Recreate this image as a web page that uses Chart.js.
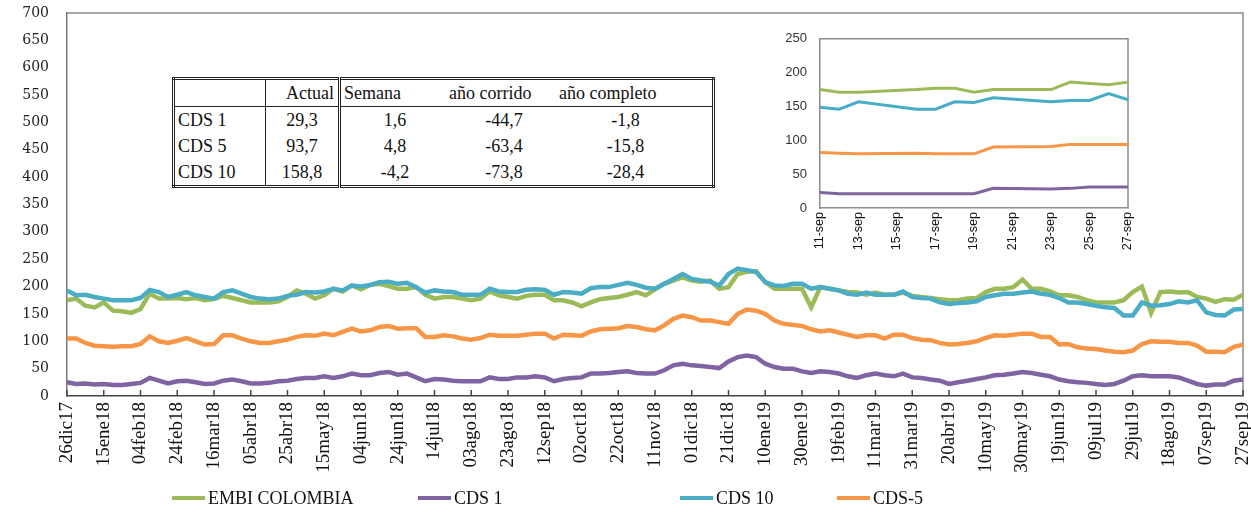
<!DOCTYPE html>
<html lang="es">
<head>
<meta charset="UTF-8" />
<title>EMBI Colombia y CDS</title>
<script src="https://cdn.jsdelivr.net/npm/chart.js@4"></script>
<style>
  body { margin: 0; background: #fff; }
  .wrap { position: relative; width: 1251px; height: 514px; font-family: "Liberation Serif", "Times New Roman", serif; color: #111; }
  #main { position: absolute; left: 0; top: 0; }
  #inset { position: absolute; left: 770px; top: 18px; }
  table.stats { position: absolute; left: 172px; top: 77px; border-collapse: collapse; border: 3px double #222; font-size: 18px; background: #fff; }
  table.stats td { padding: 0; height: 26px; line-height: 25px; white-space: nowrap; }
  table.stats tr.head td { border-bottom: 1px solid #222; }
  table.stats td.name { width: 87px; padding-left: 3px; border-right: 1px solid #222; }
  table.stats td.act { width: 72px; text-align: center; border-right: 3px double #222; }
  table.stats td.sem { width: 108px; text-align: center; }
  table.stats td.cor { width: 110px; text-align: center; }
  table.stats td.com { width: 133px; padding-right: 20px; text-align: center; }
  table.stats tr.head td.act { text-align: right; padding-right: 4px; width: 68px; }
  table.stats tr.head td.sem { text-align: left; padding-left: 3px; width: 105px; }
  table.stats tr.head td.cor, table.stats tr.head td.com { text-align: left; }
  .legend { position: absolute; top: 488px; left: 0; font-size: 18px; }
  .legend span.item { position: absolute; white-space: nowrap; }
  .legend i { display: inline-block; width: 33px; height: 4px; vertical-align: middle; margin-right: 3px; position: relative; top: -2px; }
</style>
</head>
<body>
<div class="wrap">
  <canvas id="main" width="1251" height="514"></canvas>
  <canvas id="inset" width="370" height="245"></canvas>
  <table class="stats">
    <tr class="head"><td class="name"></td><td class="act">Actual</td><td class="sem">Semana</td><td class="cor">año corrido</td><td class="com">año completo</td></tr>
    <tr><td class="name">CDS 1</td><td class="act">29,3</td><td class="sem">1,6</td><td class="cor">-44,7</td><td class="com">-1,8</td></tr>
    <tr><td class="name">CDS 5</td><td class="act">93,7</td><td class="sem">4,8</td><td class="cor">-63,4</td><td class="com">-15,8</td></tr>
    <tr><td class="name">CDS 10</td><td class="act">158,8</td><td class="sem">-4,2</td><td class="cor">-73,8</td><td class="com">-28,4</td></tr>
  </table>
  <div class="legend" id="legend"></div>
</div>
<script>
// tick labels every 20 days, data sampled every 5 days
const tickLabels = ['26dic17','15ene18','04feb18','24feb18','16mar18','05abr18','25abr18','15may18','04jun18','24jun18',
  '14jul18','03ago18','23ago18','12sep18','02oct18','22oct18','11nov18','01dic18','21dic18','10ene19','30ene19',
  '19feb19','11mar19','31mar19','20abr19','10may19','30may19','19jun19','09jul19','29jul19','18ago19','07sep19','27sep19'];

const embi = [175,178,165,162,171,156,155,152,159,187,178,178,179,177,179,175,177,183,179,175,171,171,171,173,181,193,187,178,184,196,191,202,195,
  203,205,201,196,196,199,185,178,181,181,178,175,178,191,184,181,178,183,185,185,175,175,171,164,171,177,179,181,185,190,184,195,
  205,211,217,211,209,211,196,199,223,227,228,208,196,196,196,196,162,199,196,193,190,189,185,189,185,185,189,183,181,179,177,175,
  175,178,179,190,196,196,199,213,196,196,191,184,184,181,175,171,171,171,175,190,200,152,190,191,189,190,181,178,172,177,176,185];
const cds1 = [25,22,23,21,22,20,20,22,24,33,28,23,27,28,25,22,23,28,30,27,23,23,24,27,28,31,33,33,36,33,36,41,38,
  38,42,44,39,41,34,27,31,30,28,27,27,27,34,31,31,34,34,36,34,27,31,33,34,41,41,42,44,45,42,41,41,
  47,56,59,56,55,53,51,63,71,74,71,59,53,50,50,45,42,45,44,41,36,33,38,41,38,36,41,34,33,30,28,22,
  25,28,31,34,38,39,41,44,42,39,36,30,27,25,24,22,20,22,28,36,38,36,36,36,34,28,22,19,21,21,28,30];
const cds10 = [193,184,185,181,178,175,175,175,179,194,190,181,185,190,184,181,178,190,193,187,181,178,177,178,183,185,190,189,191,196,193,202,200,
  203,208,209,205,207,199,189,193,191,190,185,185,185,196,191,190,190,194,195,194,185,190,189,187,197,199,199,203,207,203,198,196,
  205,214,223,214,211,209,202,223,233,230,227,208,202,201,205,205,196,199,196,193,187,185,189,185,185,185,191,181,179,178,171,168,
  170,171,173,181,184,187,187,189,191,187,185,179,171,171,168,165,162,161,147,147,171,165,166,168,173,171,175,153,148,147,158,159];
const cds5 = [105,105,97,92,91,90,91,91,95,109,100,97,101,106,100,94,95,111,111,105,100,97,97,100,103,108,111,110,114,111,117,123,118,
  120,126,128,123,124,124,108,108,111,109,105,103,106,112,110,110,110,112,114,114,105,112,111,110,118,122,123,124,128,126,122,120,
  129,141,147,144,138,138,135,132,150,158,156,150,138,132,130,128,122,118,120,116,112,108,111,111,105,112,112,106,103,102,97,94,
  95,97,100,106,111,110,112,114,114,108,108,94,95,89,87,86,83,81,80,83,95,100,99,99,97,97,92,81,81,80,90,94];

// inset: last two weeks (weekends empty)
const insetDays = ['11-sep','12-sep','13-sep','14-sep','15-sep','16-sep','17-sep','18-sep','19-sep','20-sep',
  '21-sep','22-sep','23-sep','24-sep','25-sep','26-sep','27-sep'];
const insetEmbi = [175,171,171,null,null,175,177,177,171,175,null,null,175,186,184,182,186];
const insetCds10 = [149,146,157,null,null,146,146,157,156,163,null,null,157,159,159,169,160];
const insetCds5 = [82,81,80,null,null,81,80,80,80,90,null,null,91,94,94,94,94];
const insetCds1 = [23,21,21,null,null,21,21,21,21,29,null,null,28,29,31,31,31];

const series = [
  { name: 'EMBI COLOMBIA', color: '#9BBB59', main: embi, inset: insetEmbi, order: 4, left: 172 },
  { name: 'CDS 1', color: '#8064A2', main: cds1, inset: insetCds1, order: 3, left: 418 },
  { name: 'CDS 10', color: '#4BACC6', main: cds10, inset: insetCds10, order: 2, left: 680 },
  { name: 'CDS-5', color: '#F79646', main: cds5, inset: insetCds5, order: 1, left: 837 },
];

// category labels: one per 5 days, only every 4th shown
const labels = tickLabels.flatMap((t, i) => i < tickLabels.length - 1 ? [t, '', '', ''] : [t]);

const frame = {
  id: 'frame',
  beforeDatasetsDraw(chart, args, opts) {
    const { ctx, chartArea: a } = chart;
    ctx.save();
    ctx.strokeStyle = opts.color;
    ctx.lineWidth = opts.width;
    ctx.beginPath();
    ctx.moveTo(a.left, a.top);
    ctx.lineTo(a.right, a.top);
    ctx.lineTo(a.right, a.bottom);
    ctx.stroke();
    ctx.restore();
  }
};

const innerTicks = {
  id: 'innerTicks',
  beforeDatasetsDraw(chart) {
    const { ctx, scales: { x }, chartArea: a } = chart;
    ctx.save();
    ctx.strokeStyle = '#444';
    ctx.lineWidth = 1.5;
    x.ticks.forEach((t, i) => {
      if (!labels[i]) return;
      const px = x.getPixelForTick(i);
      ctx.beginPath();
      ctx.moveTo(px, a.bottom);
      ctx.lineTo(px, a.bottom - 6);
      ctx.stroke();
    });
    ctx.restore();
  }
};

new Chart(document.getElementById('main'), {
  type: 'line',
  data: {
    labels,
    datasets: series.map(s => ({
      label: s.name, data: s.main, borderColor: s.color, backgroundColor: s.color, order: s.order
    }))
  },
  options: {
    responsive: false,
    animation: false,
    layout: { padding: { top: 13, right: 8, left: 0, bottom: 0 } },
    elements: { point: { radius: 0 }, line: { borderWidth: 4.5, tension: 0 } },
    plugins: { legend: { display: false }, tooltip: { enabled: false }, frame: { color: '#8c8c8c', width: 1.5 } },
    scales: {
      x: {
        grid: { display: false, drawTicks: false },
        border: { color: '#444', width: 1.5 },
        ticks: { autoSkip: false, minRotation: 90, maxRotation: 90, padding: 6, color: '#111',
          font: { family: 'Liberation Serif', size: 19 } },
        afterFit: s => { s.height = 118; s.paddingLeft = 0; s.paddingRight = 0; }
      },
      y: {
        min: 0, max: 700,
        grid: { display: false, drawTicks: false },
        border: { color: '#777', width: 1.5 },
        ticks: { stepSize: 50, padding: 18, color: '#222', font: { family: 'DejaVu Serif', size: 14 } },
        afterFit: s => { s.width = 67; s.paddingTop = 0; s.paddingBottom = 0; }
      }
    }
  },
  plugins: [frame, innerTicks]
});

new Chart(document.getElementById('inset'), {
  type: 'line',
  data: {
    labels: insetDays,
    datasets: series.map(s => ({
      label: s.name, data: s.inset, borderColor: s.color, backgroundColor: s.color, spanGaps: true, order: s.order
    }))
  },
  options: {
    responsive: false,
    animation: false,
    layout: { padding: { top: 15, right: 12, left: 0, bottom: 0 } },
    elements: { point: { radius: 0 }, line: { borderWidth: 3, tension: 0 } },
    plugins: { legend: { display: false }, tooltip: { enabled: false }, frame: { color: '#8c8c8c', width: 1.5 } },
    scales: {
      x: {
        grid: { display: false, drawTicks: false },
        border: { color: '#8c8c8c', width: 1.5 },
        ticks: { autoSkip: false, minRotation: 90, maxRotation: 90, padding: 4, color: '#111',
          font: { family: 'Liberation Sans', size: 12.5 },
          callback: (v, i) => i % 2 === 0 ? insetDays[i] : '' },
        afterFit: s => { s.height = 55; s.paddingLeft = 0; s.paddingRight = 0; }
      },
      y: {
        min: 0, max: 250,
        grid: { display: false, drawTicks: false },
        border: { color: '#8c8c8c', width: 1.5 },
        ticks: { stepSize: 50, padding: 13, color: '#333', font: { family: 'Liberation Sans', size: 13 } },
        afterFit: s => { s.width = 50; }
      }
    }
  },
  plugins: [frame]
});

// legend below the chart
const legend = document.getElementById('legend');
series.forEach(s => {
  const item = document.createElement('span');
  item.className = 'item';
  item.style.left = s.left + 'px';
  item.innerHTML = '<i style="background:' + s.color + '"></i>' + s.name;
  legend.appendChild(item);
});
</script>
</body>
</html>
